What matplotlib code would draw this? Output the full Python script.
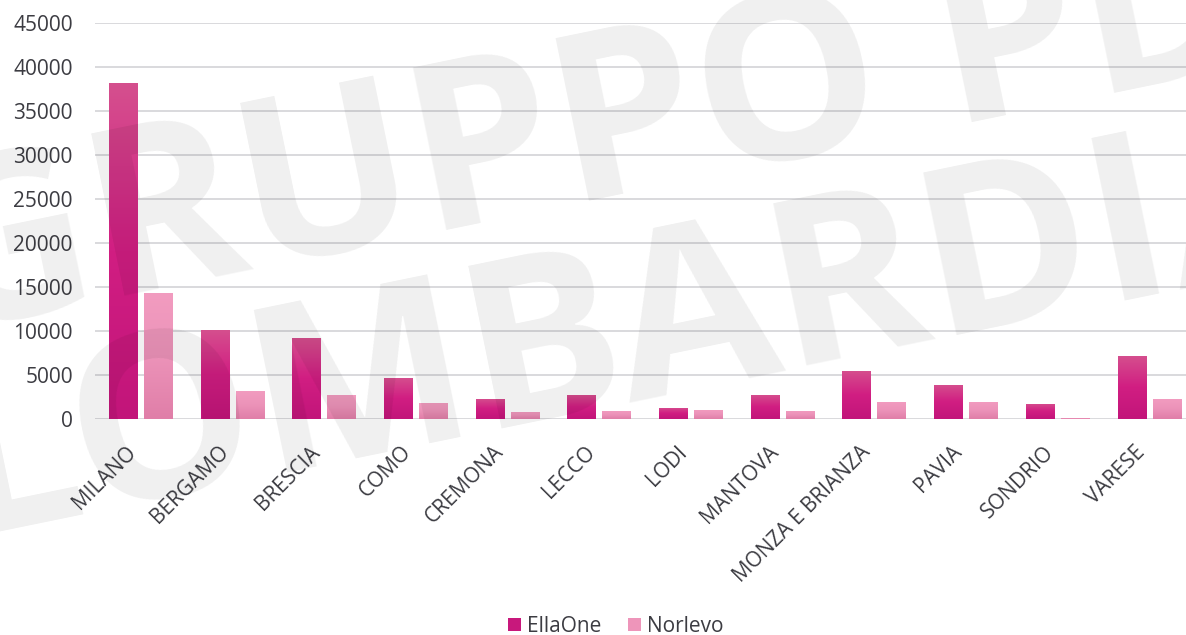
import matplotlib
matplotlib.use("Agg")
import matplotlib.pyplot as plt
import numpy as np
from matplotlib.colors import LinearSegmentedColormap
from matplotlib.patches import Patch
import matplotlib.transforms as mtransforms

categories = ["MILANO", "BERGAMO", "BRESCIA", "COMO", "CREMONA", "LECCO", "LODI",
              "MANTOVA", "MONZA E BRIANZA", "PAVIA", "SONDRIO", "VARESE"]
ellaone = [38200, 10100, 9200, 4700, 2300, 2750, 1300, 2750, 5500, 3900, 1750, 7200]
norlevo = [14300, 3200, 2750, 1850, 830, 950, 1050, 950, 1950, 1950, 150, 2300]
yticks = [0, 5000, 10000, 15000, 20000, 25000, 30000, 35000, 40000, 45000]
series_names = ["EllaOne", "Norlevo"]
watermark = ["GRUPPO PD", "LOMBARDIA"]

plt.rcParams['font.family'] = ['Open Sans', 'DejaVu Sans']

W, H = 1186, 635
fig = plt.figure(figsize=(W / 100, H / 100), dpi=100)
ax = fig.add_axes([95 / W, (H - 419.3) / H, 1 - 95 / W, (419.3 - 22.7) / H])

x = np.arange(len(categories))
bw = 0.316
off = 0.191
b1 = ax.bar(x - off, ellaone, bw, color="#D11E82", zorder=2, label=series_names[0])
b2 = ax.bar(x + off, norlevo, bw, color="#EE95BA", zorder=2, label=series_names[1])

cm1 = LinearSegmentedColormap.from_list("e", ["#C2157A", "#D11E82", "#D5508E"])
cm2 = LinearSegmentedColormap.from_list("n", ["#E07EA8", "#EC93B9", "#F29CC0"])
grad = np.linspace(0, 1, 256).reshape(-1, 1)
for bars, cm in ((b1, cm1), (b2, cm2)):
    for r in bars:
        x0, y0 = r.get_x(), r.get_y()
        w, h = r.get_width(), r.get_height()
        im = ax.imshow(grad, cmap=cm, origin="lower", aspect="auto",
                       extent=[x0, x0 + w, y0, y0 + h], zorder=2.5)
        im.set_clip_path(r)

ax.set_xlim(-0.5, -0.5 + (W - 95) / 91.7)
ax.set_ylim(0, 45000)
ax.set_yticks(yticks)
ax.set_yticklabels([str(v) for v in yticks])
ax.set_xticks(x)
ax.set_xticklabels(categories, rotation=45, ha="right", va="top")
shift = mtransforms.ScaledTranslation(3 / 100, 0, fig.dpi_scale_trans)
for lab in ax.get_xticklabels():
    lab.set_transform(lab.get_transform() + shift)
ax.yaxis.grid(True, color="#D9D9DD", lw=1.4, zorder=0)
ax.set_axisbelow(True)
for s in ax.spines.values():
    s.set_visible(False)
ax.tick_params(axis="both", length=0, labelsize=15, labelcolor="#3c3c42")
ax.tick_params(axis="y", pad=16)
ax.tick_params(axis="x", pad=16)

handles = [Patch(facecolor="#C8187C"), Patch(facecolor="#EE95BA")]
fig.legend(handles, series_names, loc="center", bbox_to_anchor=(616 / W, (H - 626) / H),
           ncol=2, frameon=False, fontsize=15, labelcolor="#3c3c42",
           handlelength=0.6, handleheight=0.6, handletextpad=0.3, columnspacing=1.3)

# watermark
for txt, (px, py) in zip(watermark, [(-60, 334), (-38, 535)]):
    fig.text(px / W, (H - py) / H, txt, fontsize=167, fontweight="bold",
             color="black", alpha=0.063, rotation=11.6, rotation_mode="anchor",
             ha="left", va="baseline", zorder=10)

fig.savefig("out.png", dpi=100)
